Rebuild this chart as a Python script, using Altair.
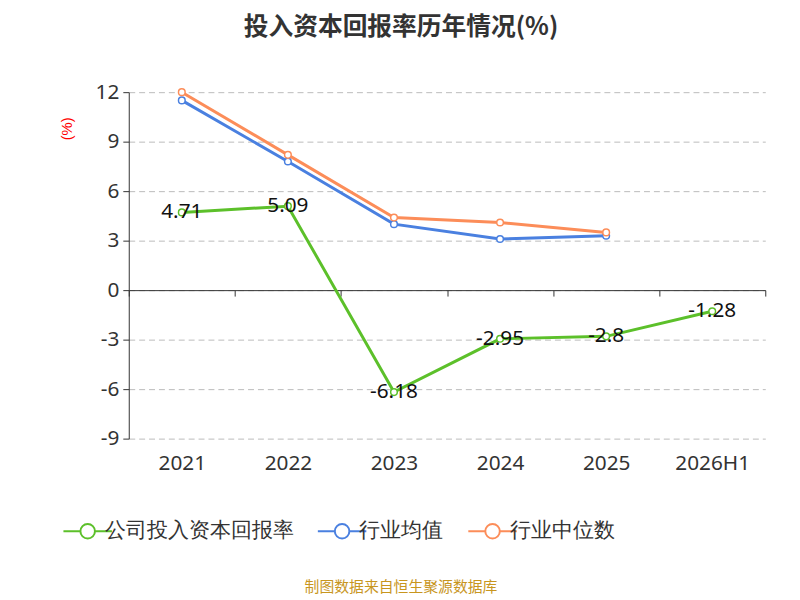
import pandas as pd
import altair as alt

years = ["2021", "2022", "2023", "2024", "2025", "2026H1"]
company = [4.71, 5.09, -6.18, -2.95, -2.8, -1.28]
ind_avg = [11.5, 7.8, 4.0, 3.1, 3.3]
ind_med = [12.0, 8.2, 4.4, 4.1, 3.5]
series = ["公司投入资本回报率", "行业均值", "行业中位数"]
colors = ["#5cc02a", "#4a80e0", "#fc8d59"]

rows = []
for y, v in zip(years, company):
    rows.append({"year": y, "val": v, "s": series[0]})
for y, v in zip(years, ind_avg):
    rows.append({"year": y, "val": v, "s": series[1]})
for y, v in zip(years, ind_med):
    rows.append({"year": y, "val": v, "s": series[2]})
df = pd.DataFrame(rows)
df["lab"] = df["val"].map(lambda v: f"{v:g}")

legend_path = "M-2,0L-0.6,0M0.6,0L2,0M0.6,0A0.6,0.6,0,1,1,-0.6,0A0.6,0.6,0,1,1,0.6,0"

x = alt.X("year:N", sort=years, title=None,
          scale=alt.Scale(paddingInner=0, paddingOuter=0),
          axis=alt.Axis(offset=-150, labelPadding=158, labelFontSize=21, labelColor="#333",
                        labelAngle=0, domainColor="#333", tickColor="#333", tickSize=6,
                        tickBand="extent", labelFont="Noto Sans"))
y = alt.Y("val:Q", title=None,
          scale=alt.Scale(domain=[-9, 12], nice=False),
          axis=alt.Axis(values=[-9, -6, -3, 0, 3, 6, 9, 12], labelFontSize=21, labelColor="#333",
                        domainColor="#333", tickColor="#333", tickSize=6, gridDash=[6, 4],
                        gridColor="#bbb", labelFont="Noto Sans", labelPadding=4,
                        labelExpr="replace(datum.label, '−', '-')"))
color = alt.Color("s:N", sort=series, scale=alt.Scale(domain=series, range=colors),
                  legend=alt.Legend(title=None, orient="none", legendX=-55, legendY=430,
                                    direction="horizontal", labelFontSize=21, labelColor="#333",
                                    symbolType=legend_path, symbolSize=600, symbolStrokeWidth=2,
                                    labelLimit=400, columnPadding=22, labelFont="Noto Sans"))

lines = alt.Chart(df).mark_line(strokeWidth=3).encode(x=x, y=y, color=color)
points = alt.Chart(df).mark_point(filled=False, fill="white", fillOpacity=1, opacity=1,
                                  size=45, strokeWidth=1.5).encode(x=x, y=y, color=color)

labels = alt.Chart(df[df.s == series[0]]).mark_text(fontSize=21, color="#111", font="Noto Sans").encode(
    x=alt.X("year:N", sort=years), y="val:Q", text="lab:N")

title = alt.Chart(pd.DataFrame({"t": ["投入资本回报率历年情况(%)"]})).mark_text(
    fontSize=25, fontWeight="bold", color="#333", font="Noto Sans CJK SC").encode(
    text="t:N", x=alt.value(275), y=alt.value(-66))
ytitle = alt.Chart(pd.DataFrame({"t": ["(%)"]})).mark_text(
    fontSize=15, color="red", angle=270).encode(text="t:N", x=alt.value(-62), y=alt.value(37))
source = alt.Chart(pd.DataFrame({"t": ["制图数据来自恒生聚源数据库"]})).mark_text(
    fontSize=15, color="#c8961e", font="Noto Sans CJK SC").encode(text="t:N", x=alt.value(275), y=alt.value(500))

chart = (lines + points + labels + title + ytitle + source).properties(
    width=643, height=350, autosize="none",
    padding={"left": 122, "top": 82, "right": 27, "bottom": 160},
).configure_view(stroke=None)

chart.save("out.html", embed_options={"renderer": "svg", "actions": False})
